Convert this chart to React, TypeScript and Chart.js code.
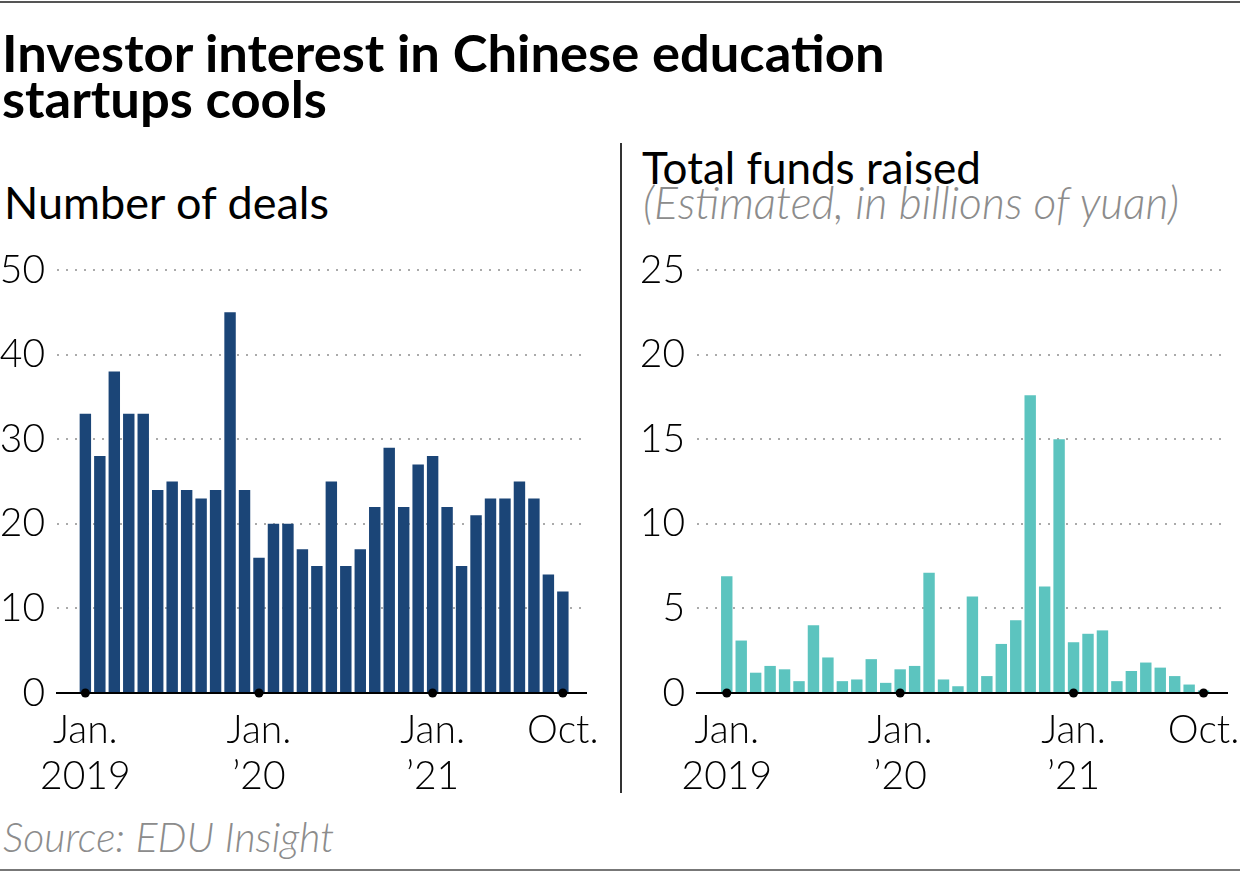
import React, { useEffect, useRef } from "react";
import { Chart, registerables } from "chart.js";

Chart.register(...registerables);

const months = [
  "Jan 2019", "Feb 2019", "Mar 2019", "Apr 2019", "May 2019", "Jun 2019",
  "Jul 2019", "Aug 2019", "Sep 2019", "Oct 2019", "Nov 2019", "Dec 2019",
  "Jan 2020", "Feb 2020", "Mar 2020", "Apr 2020", "May 2020", "Jun 2020",
  "Jul 2020", "Aug 2020", "Sep 2020", "Oct 2020", "Nov 2020", "Dec 2020",
  "Jan 2021", "Feb 2021", "Mar 2021", "Apr 2021", "May 2021", "Jun 2021",
  "Jul 2021", "Aug 2021", "Sep 2021", "Oct 2021",
];

const dealCounts = [
  33, 28, 38, 33, 33, 24, 25, 24, 23, 24, 45, 24,
  16, 20, 20, 17, 15, 25, 15, 17, 22, 29, 22, 27,
  28, 22, 15, 21, 23, 23, 25, 23, 14, 12,
];

const fundsRaised = [
  6.9, 3.1, 1.2, 1.6, 1.4, 0.7, 4.0, 2.1, 0.7, 0.8, 2.0, 0.6,
  1.4, 1.6, 7.1, 0.8, 0.4, 5.7, 1.0, 2.9, 4.3, 17.6, 6.3, 15.0,
  3.0, 3.5, 3.7, 0.7, 1.3, 1.8, 1.5, 1.0, 0.5, 0.15,
];

const xTickMonths = ["Jan 2019", "Jan 2020", "Jan 2021", "Oct 2021"];
const xTickLabels = [["Jan.", "2019"], ["Jan.", "\u201920"], ["Jan.", "\u201921"], ["Oct."]];
const dealsTicks = [0, 10, 20, 30, 40, 50];
const fundsTicks = [0, 5, 10, 15, 20, 25];

const TICK_FONT = { family: "Lato", size: 39, weight: 300 as any, lineHeight: 1.18 };

type PanelProps = {
  values: number[];
  color: string;
  yTicks: number[];
  yAxisWidth: number;
  xMin: number;
  xMax: number;
  padRight: number;
};

function Panel({ values, color, yTicks, yAxisWidth, xMin, xMax, padRight }: PanelProps) {
  const ref = useRef<HTMLCanvasElement | null>(null);
  useEffect(() => {
    if (!ref.current) return;
    const tickIdx = xTickMonths.map((m) => months.indexOf(m));
    const chart = new Chart(ref.current, {
      type: "bar",
      data: {
        datasets: [
          {
            type: "bar",
            data: values.map((v, i) => ({ x: i, y: v })),
            backgroundColor: color,
            borderWidth: 0,
            barPercentage: 0.79,
            categoryPercentage: 1,
            order: 2,
          } as any,
          {
            type: "scatter",
            data: tickIdx.map((i) => ({ x: i, y: 0 })),
            backgroundColor: "#000",
            borderWidth: 0,
            pointRadius: 4.5,
            clip: false,
            order: 1,
          } as any,
        ],
      },
      options: {
        responsive: false,
        animation: false,
        events: [],
        layout: { padding: { top: 30, right: padRight, left: 0, bottom: 0 } },
        plugins: { legend: { display: false }, tooltip: { enabled: false } },
        scales: {
          x: {
            type: "linear",
            min: xMin,
            max: xMax,
            offset: false,
            grid: { display: false, drawTicks: false, offset: false },
            border: { display: true, color: "#000", width: 2 },
            afterBuildTicks: (s: any) => {
              s.ticks = tickIdx.map((v) => ({ value: v }));
            },
            afterFit: (s: any) => {
              s.height = 107;
              s.paddingLeft = 0;
              s.paddingRight = 0;
            },
            ticks: {
              autoSkip: false,
              maxRotation: 0,
              minRotation: 0,
              padding: 14,
              color: "#000",
              font: TICK_FONT,
              callback: (v: any) => {
                const k = tickIdx.indexOf(Number(v));
                return k >= 0 ? xTickLabels[k] : "";
              },
            },
          },
          y: {
            type: "linear",
            min: yTicks[0],
            max: yTicks[yTicks.length - 1],
            afterBuildTicks: (s: any) => {
              s.ticks = yTicks.map((v) => ({ value: v }));
            },
            afterFit: (s: any) => {
              s.width = yAxisWidth;
              s.paddingTop = 0;
              s.paddingBottom = 0;
            },
            grid: {
              drawTicks: false,
              lineWidth: 2,
              color: (ctx: any) => (ctx.tick && ctx.tick.value === 0 ? "rgba(0,0,0,0)" : "#aaaaaa"),
            },
            border: { display: false, dash: [2, 7] },
            ticks: {
              padding: 12,
              color: "#000",
              font: TICK_FONT,
              callback: (v: any) => String(v),
            },
          },
        },
      },
    } as any);
    return () => chart.destroy();
  }, []);
  return <canvas ref={ref} width={610} height={560} style={{ display: "block" }} />;
}

const textBase: React.CSSProperties = {
  position: "absolute",
  fontFamily: "Lato, sans-serif",
  whiteSpace: "nowrap",
  margin: 0,
};

export default function App() {
  return (
    <div
      style={{
        position: "fixed",
        left: 0,
        top: 0,
        width: 1240,
        height: 873,
        background: "#fff",
        overflow: "hidden",
      }}
    >
      <div style={{ position: "absolute", left: 0, top: 1, width: 1240, height: 2, background: "#555" }} />
      <div style={{ position: "absolute", left: 0, top: 869, width: 1240, height: 2, background: "#777" }} />
      <div style={{ position: "absolute", left: 620, top: 143, width: 1.5, height: 650, background: "#333" }} />

      <div
        style={{
          ...textBase,
          left: 2,
          top: 29,
          fontSize: 52.5,
          fontWeight: 700,
          lineHeight: "46px",
          color: "#000",
        }}
      >
        Investor interest in Chinese education
        <br />
        startups cools
      </div>

      <div style={{ ...textBase, left: 4, top: 176, fontSize: 45, fontWeight: 400, lineHeight: "52px", color: "#000" }}>
        Number of deals
      </div>

      <div style={{ ...textBase, left: 642, top: 140, fontSize: 44, fontWeight: 400, lineHeight: "55px", color: "#000" }}>
        Total funds raised
      </div>
      <div
        style={{
          ...textBase,
          left: 643,
          top: 180,
          fontSize: 44.5,
          fontWeight: 300,
          fontStyle: "italic",
          lineHeight: "44px",
          color: "#8c8c8c",
        }}
      >
        (Estimated, in billions of yuan)
      </div>

      <div
        style={{
          ...textBase,
          left: 3,
          top: 813,
          fontSize: 41,
          fontWeight: 300,
          fontStyle: "italic",
          lineHeight: "48px",
          color: "#8c8c8c",
        }}
      >
        Source: EDU Insight
      </div>

      <div style={{ position: "absolute", left: 0, top: 240 }}>
        <Panel values={dealCounts} color="#1b4577" yTicks={dealsTicks} yAxisWidth={57} xMin={-1.96} xMax={34.6} padRight={24} />
      </div>
      <div style={{ position: "absolute", left: 630, top: 240 }}>
        <Panel values={fundsRaised} color="#5cc4bf" yTicks={fundsTicks} yAxisWidth={67} xMin={-2.06} xMax={34.62} padRight={13} />
      </div>
    </div>
  );
}
